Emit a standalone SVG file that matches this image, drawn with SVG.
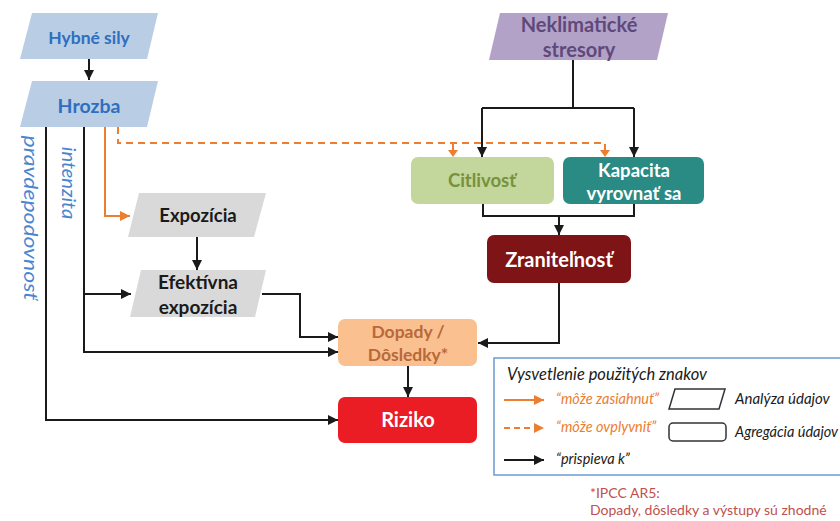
<svg xmlns="http://www.w3.org/2000/svg" width="840" height="521" viewBox="0 0 840 521">
<style>
text{font-family:Lato,"Liberation Sans",sans-serif}
.b{font-weight:bold;font-size:18px;text-anchor:middle}
.k{fill:none;stroke:#1a1a1a;stroke-width:2}
.o{fill:none;stroke:#ed7d31;stroke-width:2}
.od{fill:none;stroke:#ed7d31;stroke-width:2;stroke-dasharray:7 5}
.lg{font-style:italic;font-size:14.5px}
.rot{font-style:italic;font-size:20px;fill:#4a86cf;text-anchor:middle}
</style>
<defs>
<marker id="ak" viewBox="0 0 10 10" refX="10" refY="5" markerWidth="10" markerHeight="10" markerUnits="userSpaceOnUse" orient="auto"><path d="M0,0 L10,5 L0,10 z" fill="#1a1a1a"/></marker>
<marker id="ao" viewBox="0 0 10 10" refX="10" refY="5" markerWidth="10" markerHeight="10" markerUnits="userSpaceOnUse" orient="auto"><path d="M0,0 L10,5 L0,10 z" fill="#ed7d31"/></marker>
</defs>
<rect width="840" height="521" fill="#fff"/>

<g id="connectors">
<path class="k" d="M89,59 V80" marker-end="url(#ak)"/>
<path class="k" d="M46,127 V420 H338" marker-end="url(#ak)"/>
<path class="k" d="M84,127 V352 H338" marker-end="url(#ak)"/>
<path class="k" d="M84,294 H131" marker-end="url(#ak)"/>
<path class="o" d="M105,127 V216 H130" marker-end="url(#ao)"/>
<path class="od" d="M118,127 V143 H605 V150"/>
<path class="od" d="M453,143 V150"/>
<path d="M448,150 L458,150 L453,157 z" fill="#ed7d31"/>
<path d="M600,150 L610,150 L605,157 z" fill="#ed7d31"/>
<path class="k" d="M573,60 V108"/>
<path class="k" d="M482,108 H634"/>
<path class="k" d="M482,108 V157" marker-end="url(#ak)"/>
<path class="k" d="M634,108 V157" marker-end="url(#ak)"/>
<path class="k" d="M483,204 V216 H634 V204"/>
<path class="k" d="M559,216 V235" marker-end="url(#ak)"/>
<path class="k" d="M559,283 V343 H478" marker-end="url(#ak)"/>
<path class="k" d="M262,294 H300 V337 H338" marker-end="url(#ak)"/>
<path class="k" d="M197,237 V270" marker-end="url(#ak)"/>
<path class="k" d="M408,366 V397" marker-end="url(#ak)"/>
</g>

<g id="hybne-sily">
<polygon points="32,13 158,13 147,59 20,59" fill="#b9cde5"/>
<text class="b" x="89" y="44" fill="#2e6fbf" style="font-size:17.5px">Hybné sily</text>
</g>
<g id="hrozba">
<polygon points="32,81 158,81 147,127 20,127" fill="#b9cde5"/>
<text class="b" x="89" y="113" fill="#2e6fbf" style="font-size:19.5px">Hrozba</text>
</g>
<g id="neklimaticke-stresory">
<polygon points="500,13 668,13 657,60 489,60" fill="#b3a2c7"/>
<text class="b" x="579" y="32" fill="#5f497a" style="font-size:20px">Neklimatické</text>
<text class="b" x="579" y="57" fill="#5f497a" style="font-size:20px">stresory</text>
</g>
<g id="citlivost">
<rect x="411" y="157" width="143" height="47" rx="7" fill="#c3d69b"/>
<text class="b" x="482" y="187" fill="#76923c" style="font-size:18.5px">Citlivosť</text>
</g>
<g id="kapacita">
<rect x="563" y="157" width="141" height="47" rx="7" fill="#2a8a84"/>
<text class="b" x="634" y="177" fill="#fff" style="font-size:18.5px">Kapacita</text>
<text class="b" x="634" y="200" fill="#fff" style="font-size:18.5px">vyrovnať sa</text>
</g>
<g id="zranitelnost">
<rect x="487" y="235" width="144" height="48" rx="7" fill="#7f1416"/>
<text class="b" x="559" y="267" fill="#fff" style="font-size:20px">Zraniteľnosť</text>
</g>
<g id="expozicia">
<polygon points="139,193 266,193 254,237 128,237" fill="#d9d9d9"/>
<text class="b" x="198" y="222" fill="#1a1a1a" style="font-size:18.5px">Expozícia</text>
</g>
<g id="efektivna-expozicia">
<polygon points="141,270 266,270 255,317 130,317" fill="#d9d9d9"/>
<text class="b" x="198" y="289" fill="#1a1a1a" style="font-size:19px">Efektívna</text>
<text class="b" x="198" y="314" fill="#1a1a1a" style="font-size:19px">expozícia</text>
</g>
<g id="dopady">
<rect x="338" y="319" width="139" height="47" rx="7" fill="#fac090"/>
<text class="b" x="408" y="338" fill="#b8693a" style="font-size:17.5px">Dopady /</text>
<text class="b" x="408" y="361" fill="#b8693a" style="font-size:17.5px">Dôsledky*</text>
</g>
<g id="riziko">
<rect x="338" y="397" width="139" height="46" rx="7" fill="#ea1c24"/>
<text class="b" x="408" y="427" fill="#fff" style="font-size:20px">Riziko</text>
</g>

<g id="labels">
<text class="rot" transform="translate(24,218) rotate(90)" textLength="165" lengthAdjust="spacingAndGlyphs">pravdepodovnosť</text>
<text class="rot" transform="translate(62,183) rotate(90)">intenzita</text>
</g>

<g id="legend">
<rect x="494" y="358" width="360" height="117" fill="#fff" stroke="#6b9bd2" stroke-width="1.5"/>
<text class="lg" x="507" y="380" fill="#1a1a1a" style="font-size:16.5px">Vysvetlenie použitých znakov</text>
<path class="o" d="M504,400 H544" marker-end="url(#ao)"/>
<text class="lg" x="556" y="404" fill="#ed7d31">“môže zasiahnuť”</text>
<path class="od" d="M504,428 H544" marker-end="url(#ao)" style="stroke-dasharray:6 4"/>
<text class="lg" x="556" y="432" fill="#ed7d31">“môže ovplyvniť”</text>
<path class="k" d="M504,460 H544" marker-end="url(#ak)"/>
<text class="lg" x="556" y="464" fill="#1a1a1a">“prispieva k”</text>
<polygon points="675,389 725,389 719,409 669,409" fill="#fff" stroke="#333" stroke-width="1.5"/>
<text class="lg" x="735" y="404" fill="#1a1a1a" style="font-size:15px">Analýza údajov</text>
<rect x="669" y="423" width="57" height="18" rx="4" fill="#fff" stroke="#333" stroke-width="1.5"/>
<text class="lg" x="735" y="437" fill="#1a1a1a">Agregácia údajov</text>
</g>

<g id="footnote" fill="#c0504d" style="font-family:'Liberation Sans',Arial,sans-serif;font-size:14px">
<text x="590" y="498">*IPCC AR5:</text>
<text x="590" y="515">Dopady, dôsledky a výstupy sú zhodné</text>
</g>
</svg>
